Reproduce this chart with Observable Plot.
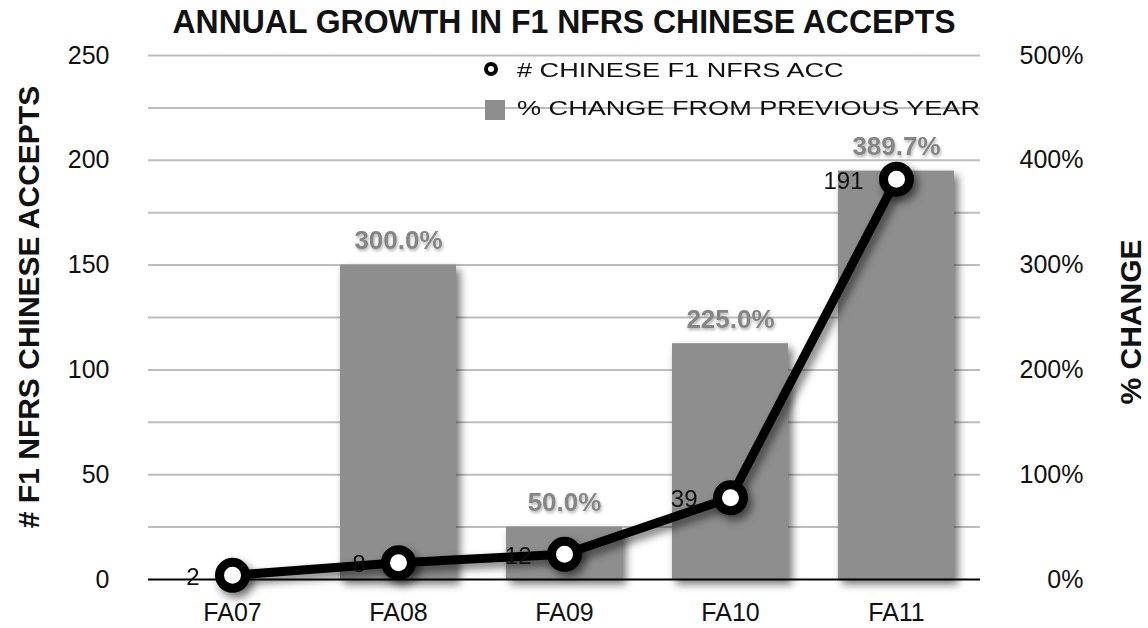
<!DOCTYPE html>
<html><head><meta charset="utf-8">
<script src="https://cdn.jsdelivr.net/npm/d3@7"></script>
<script src="https://cdn.jsdelivr.net/npm/@observablehq/plot@0.6"></script>
<style>
body{margin:0;background:#fff;}
#wrap{position:relative;width:1148px;height:628px;font-family:"Liberation Sans",Arial,Helvetica,sans-serif;color:#111;overflow:hidden;}
#chart{position:absolute;left:0;top:0;}
#title{position:absolute;left:564px;top:3px;font-weight:bold;font-size:33px;white-space:nowrap;transform-origin:0 0;line-height:38px;}
.ylab{position:absolute;transform:translate(-50%,-50%) rotate(-90deg);font-weight:bold;white-space:nowrap;line-height:1;}
.leg{position:absolute;font-size:21px;white-space:nowrap;transform-origin:0 50%;line-height:24px;}
.legdot{position:absolute;width:6px;height:6px;border:4px solid #000;border-radius:50%;background:#fff;}
.legsq{position:absolute;width:20px;height:20px;background:#8e8e8e;}
</style></head>
<body>
<div id="wrap">
  <div id="chart"></div>
  <div id="title"></div>
  <div class="ylab" id="ylabL" style="left:29px;top:307px;font-size:30px;"></div>
  <div class="ylab" id="ylabR" style="left:1131px;top:322px;font-size:30px;"></div>
  <div class="legdot" style="left:484px;top:62px;"></div>
  <div class="leg" id="leg1" style="left:517px;top:58px;"></div>
  <div class="legsq" style="left:485px;top:100px;"></div>
  <div class="leg" id="leg2" style="left:517px;top:96px;"></div>
</div>
<script>
const titleText = "ANNUAL GROWTH IN F1 NFRS CHINESE ACCEPTS";
const leftAxisLabel = "# F1 NFRS CHINESE ACCEPTS";
const rightAxisLabel = "% CHANGE";
const seriesLineName = "# CHINESE F1 NFRS ACC";
const seriesBarName = "% CHANGE FROM PREVIOUS YEAR";
const years = ["FA07", "FA08", "FA09", "FA10", "FA11"];
const accepts = [2, 8, 12, 39, 191];
const pctChange = [null, 300.0, 50.0, 225.0, 389.7];
const leftTicks = [0, 50, 100, 150, 200, 250];
const gridTicks = [25, 50, 75, 100, 125, 150, 175, 200, 225, 250];

const titleEl = document.getElementById("title");
titleEl.textContent = titleText;
document.getElementById("ylabL").textContent = leftAxisLabel;
document.getElementById("ylabR").textContent = rightAxisLabel;
const leg1 = document.getElementById("leg1");
const leg2 = document.getElementById("leg2");
leg1.textContent = seriesLineName;
leg2.textContent = seriesBarName;

// condensed title: squeeze to the reference width, centred on the plot
{
  const w = titleEl.getBoundingClientRect().width;
  const s = 783 / w;
  titleEl.style.transform = `translateX(${-783 / 2}px) scaleX(${s})`;
}
// wide legend text
{
  const w2 = leg2.getBoundingClientRect().width;
  const s = 463 / w2;
  leg1.style.transform = `scaleX(${s})`;
  leg2.style.transform = `scaleX(${s})`;
}

const rows = years.map((y, i) => ({year: y, n: accepts[i], pct: pctChange[i]}));
const barRows = rows.filter(d => d.pct != null);

const chart = Plot.plot({
  width: 1148, height: 628,
  marginTop: 55, marginBottom: 49, marginLeft: 148, marginRight: 168,
  style: {fontFamily: '"Liberation Sans", Arial, sans-serif', fontSize: "25px", color: "#111", background: "transparent", overflow: "visible"},
  x: {domain: years, paddingInner: 0.3, paddingOuter: 0.15, label: null},
  y: {domain: [0, 250], label: null},
  marks: [
    Plot.gridY(gridTicks, {stroke: "#bdbdbd", strokeOpacity: 1, strokeWidth: 2}),
    Plot.barY(barRows, {x: "year", y: d => d.pct / 2, fill: "#8e8e8e"}),
    Plot.ruleY([0], {stroke: "#000", strokeWidth: 2}),
    Plot.text(barRows, {x: "year", y: d => d.pct / 2, text: d => d.pct.toFixed(1) + "%", dy: -24, fill: "#858585", fontWeight: "bold", fontSize: 26}),
    Plot.axisY(leftTicks, {anchor: "left", tickSize: 0, tickPadding: 39, fontSize: 25, label: null}),
    Plot.axisY(leftTicks, {anchor: "right", tickSize: 0, tickPadding: 103, textAnchor: "end", fontSize: 25, tickFormat: d => (d * 2) + "%", label: null}),
    Plot.axisX({tickSize: 0, tickPadding: 24, fontSize: 25, label: null}),
    Plot.line(rows, {x: "year", y: "n", stroke: "#000", strokeWidth: 9}),
    Plot.dot(rows, {x: "year", y: "n", r: 13, fill: "#fff", stroke: "#000", strokeWidth: 9}),
    Plot.text(rows, {x: "year", y: "n", text: d => String(d.n), textAnchor: "end", dx: -33, dy: 2, fontSize: 24, fill: "#111"})
  ]
});
document.getElementById("chart").appendChild(chart);

// drop shadows
const svg = d3.select(chart);
const defs = svg.insert("defs", ":first-child");
const f = defs.append("filter").attr("id", "shadow").attr("x", "-20%").attr("y", "-20%").attr("width", "150%").attr("height", "150%");
f.append("feDropShadow").attr("dx", 4).attr("dy", 5).attr("stdDeviation", 4).attr("flood-color", "#000").attr("flood-opacity", 0.55);
const f2 = defs.append("filter").attr("id", "tshadow").attr("x", "-20%").attr("y", "-50%").attr("width", "150%").attr("height", "200%");
f2.append("feDropShadow").attr("dx", 1).attr("dy", 2).attr("stdDeviation", 1.5).attr("flood-color", "#000").attr("flood-opacity", 0.3);
svg.selectAll('g[aria-label="bar"], g[aria-label="line"], g[aria-label="dot"]').attr("filter", "url(#shadow)");
svg.selectAll('g[aria-label="text"]').filter((d, i) => i === 0).attr("filter", "url(#tshadow)");
</script>
</body></html>
